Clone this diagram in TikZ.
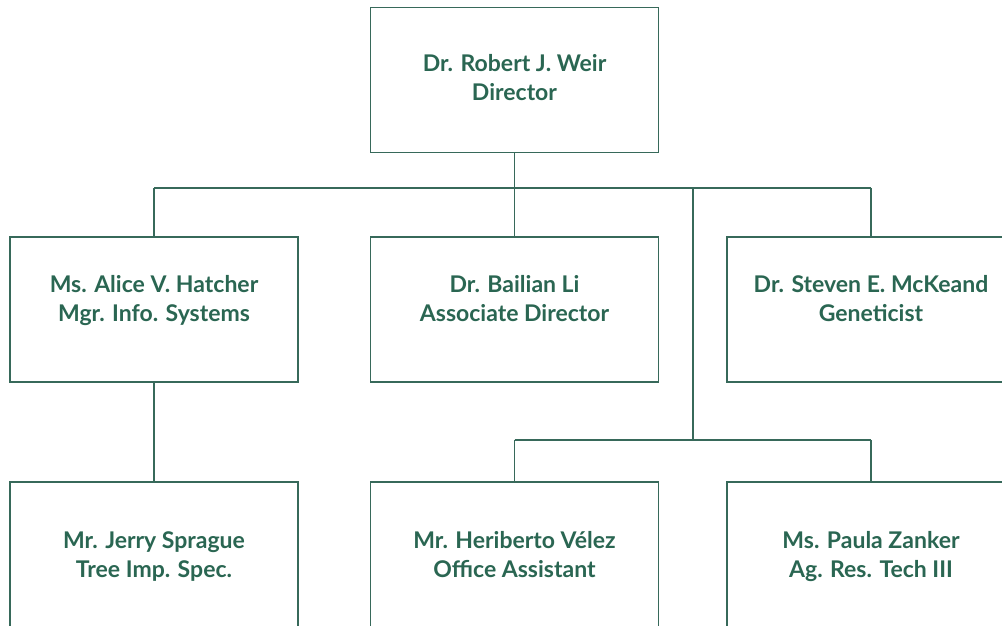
\documentclass[tikz,border=0pt]{standalone}
\usepackage{fontspec}
\setmainfont{Lato}
\definecolor{orggreen}{RGB}{42,102,82}
\definecolor{linegreen}{RGB}{55,105,90}
\newcommand{\ptext}[3]{\raisebox{#1}[\height][\depth]{\begin{tabular}{@{}c@{}}#2\\#3\end{tabular}}}
\begin{document}
\begin{tikzpicture}[x=1pt,y=1pt,
  person/.style={draw=linegreen, line width=1.7pt, minimum width=288pt, minimum height=145pt,
    inner sep=0pt, align=center, text=orggreen, font=\bfseries\fontsize{23}{29}\selectfont},
  link/.style={draw=linegreen, line width=1.7pt}]
\useasboundingbox (0,0) rectangle (1002,626);
\clip (0,0) rectangle (1002,626);
\fill[white] (0,0) rectangle (1002,626);
% nodes
\node[person] (weir) at (514.5,546) {\ptext{0pt}{Dr. Robert J. Weir}{Director}};
\node[person] (hatcher) at (154,316.5) {\ptext{8pt}{Ms. Alice V. Hatcher}{Mgr. Info. Systems}};
\node[person] (li) at (514.5,316.5) {\ptext{8pt}{Dr. Bailian Li}{Associate Director}};
\node[person] (mckeand) at (871,316.5) {\ptext{8pt}{Dr. Steven E. McKeand}{Geneticist}};
\node[person] (sprague) at (154,71.5) {\ptext{-3pt}{Mr. Jerry Sprague}{Tree Imp. Spec.}};
\node[person] (velez) at (514.5,71.5) {\ptext{-3pt}{Mr. Heriberto Vélez}{Office Assistant}};
\node[person] (zanker) at (871,71.5) {\ptext{-3pt}{Ms. Paula Zanker}{Ag. Res. Tech III}};
% bus coordinates
\coordinate (bus) at (514.5,438);
\coordinate (branch) at (693,438);
\coordinate (sub) at (693,186);
% connectors
\draw[link] (weir.south) -- (weir.south |- bus);
\draw[link] (hatcher.north |- bus) -- (mckeand.north |- bus);
\draw[link] (hatcher.north |- bus) -- (hatcher.north);
\draw[link] (li.north |- bus) -- (li.north);
\draw[link] (mckeand.north |- bus) -- (mckeand.north);
\draw[link] (branch) -- (sub);
\draw[link] (velez.north |- sub) -- (zanker.north |- sub);
\draw[link] (velez.north |- sub) -- (velez.north);
\draw[link] (zanker.north |- sub) -- (zanker.north);
\draw[link] (hatcher.south) -- (sprague.north);
\end{tikzpicture}
\end{document}
